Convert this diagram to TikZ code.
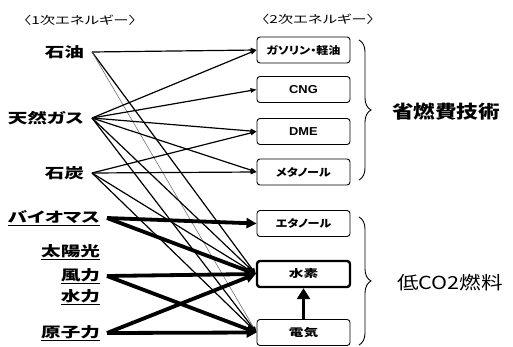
\documentclass[tikz,border=0pt]{standalone}
\usepackage{fontspec}
\setmainfont{Noto Sans CJK JP}[FakeStretch=1.4,RawFeature=+palt]
\newfontfamily\bigjp{Noto Sans CJK JP}[FakeStretch=1.2,RawFeature=+palt]
\newfontfamily\kanajp{Noto Sans CJK JP}[FakeStretch=1.15,RawFeature=+palt]
\newfontfamily\latbox{Liberation Sans}[FakeStretch=1.12]
\usetikzlibrary{arrows.meta,decorations.pathreplacing}
\begin{document}
\begin{tikzpicture}[x=1pt,y=-1pt,
  src/.style={anchor=east,inner sep=0pt,outer xsep=8pt,font=\fontsize{14}{16}\selectfont\bfseries},
  srcu/.style={src,outer xsep=7pt},
  box/.style={draw,rounded corners=3pt,minimum width=93pt,minimum height=26pt,inner sep=0pt,line width=0.9pt,font=\fontsize{10.5}{12}\selectfont\bfseries},
  kbox/.style={box,font=\kanajp\fontsize{10.5}{12}\selectfont\bfseries},
  lbox/.style={box,font=\latbox\fontsize{11.5}{13}\selectfont\bfseries},
  hdr/.style={font=\fontsize{11}{13}\selectfont},
  thin/.style={line width=1.2pt,-{Triangle[length=6pt,width=4.5pt]}},
  hair/.style={line width=0.6pt,draw=black!55,-{Triangle[length=5pt,width=3.5pt]}},
  fat/.style={line width=3.8pt,-{Triangle[length=10pt,width=10pt]}},
  brc/.style={decorate,decoration={brace,amplitude=12pt},line width=0.9pt}
]
\useasboundingbox (0,0) rectangle (513,347);

\node[hdr] (hd1) at (80,20) {〈1次エネルギー〉};
\node[hdr] (hd2) at (318,19) {〈2次エネルギー〉};

\node[src] (oil) at (92,52) {石油};
\node[src] (ng) at (92,118) {天然ガス};
\node[src] (coal) at (92,173) {石炭};
\node[srcu] (bio) at (107,218) {\underline{バイオマス}};
\node[srcu] (solar) at (107,252) {\underline{太陽光}};
\node[srcu] (wind) at (107,276) {\underline{風力}};
\node[srcu] (hydl) at (107,297) {\underline{水力}};
\node[srcu] (nuc) at (107,333) {\underline{原子力}};

\node[kbox] (gas) at (303.5,50) {ガソリン・軽油};
\node[lbox] (cng) at (303.5,89.5) {CNG};
\node[lbox] (dme) at (303.5,131.5) {DME};
\node[kbox] (meth) at (303.5,172) {メタノール};
\node[kbox] (eth) at (303.5,223.5) {エタノール};
\node[box,line width=2.4pt] (hyd) at (303.5,274) {水素};
\node[box] (elec) at (303.5,332.5) {電気};

\node[font=\bigjp\fontsize{18}{20}\selectfont\bfseries] (save) at (446,112) {省燃費技術};
\node[font=\bigjp\fontsize{18}{20}\selectfont] (low) at (450,283) {低CO2燃料};

\draw[brc] (359,40) -- (359,180);
\draw[brc] (359,217) -- (359,345);

\draw[thin] (oil.east) -- (gas.west);
\draw[thin] (oil.east) -- (hyd.west);
\draw[hair] (oil.east) -- (elec.west);
\draw[thin] (ng.east) -- (gas.west);
\draw[thin] (ng.east) -- (cng.west);
\draw[thin] (ng.east) -- (dme.west);
\draw[thin] (ng.east) -- (meth.west);
\draw[thin] (ng.east) -- (hyd.west);
\draw[thin] (ng.east) -- (elec.west);
\draw[thin] (coal.east) -- (dme.west);
\draw[thin] (coal.east) -- (meth.west);
\draw[thin] (coal.east) -- (hyd.west);
\draw[thin] (coal.east) -- (elec.west);

\draw[fat] (bio.east) -- (eth.west);
\draw[fat] (bio.east) -- (hyd.west);
\draw[fat] (wind.east) -- (hyd.west);
\draw[fat] (wind.east) -- (elec.west);
\draw[fat] (nuc.east) -- (hyd.west);
\draw[fat] (nuc.east) -- (elec.west);
\draw[fat,-{Triangle[length=11pt,width=13pt]}] (elec.north) -- (hyd.south);
\end{tikzpicture}
\end{document}
